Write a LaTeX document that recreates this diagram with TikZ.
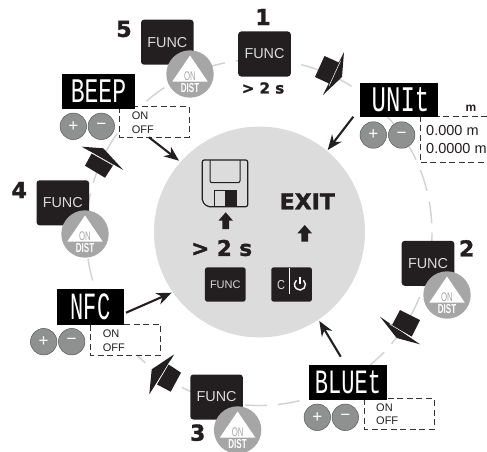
\documentclass[tikz,border=0pt]{standalone}
\usepackage{fontspec}
\setmainfont{Liberation Sans}
\newfontfamily\heavy[FakeBold=1.6]{DejaVu Sans Bold}
\newfontfamily\segf{Liberation Mono}
\usetikzlibrary{arrows.meta}
\definecolor{boxblk}{HTML}{231F20}
\definecolor{distgray}{HTML}{A6A6A6}
\definecolor{discgray}{HTML}{DCDCDC}
\definecolor{ringgray}{HTML}{D2D2D2}
\definecolor{btngray}{HTML}{8E9190}
\definecolor{functxt}{HTML}{DADADA}
\newcommand{\fs}[1]{\fontsize{#1}{#1}\selectfont}
\tikzset{
  funcbox/.style={fill=boxblk,rounded corners=3pt,minimum width=52.6pt,minimum height=45pt,inner sep=0pt,text=functxt,font=\fs{14.4}},
  smallbox/.style={fill=boxblk,rounded corners=2.5pt,minimum width=40.7pt,minimum height=34.4pt,inner sep=0pt},
  distcirc/.style={circle,fill=distgray,minimum size=47.4pt,inner sep=0pt},
  btn/.style={circle,fill=btngray,draw=black!65,line width=.5pt,minimum size=26.5pt,inner sep=0pt,text=white,font=\fs{17}},
  disp/.style={fill=black,inner sep=0pt,text=white},
  bignum/.style={inner sep=0pt,font=\heavy\fs{22},text=boxblk},
  optbox/.style={draw=black!80,dash pattern=on 6pt off 3.5pt,line width=.9pt,fill=white},
  opttxt/.style={inner sep=0pt,anchor=west,font=\fs{11},text=boxblk},
  navarrow/.style={-{Stealth[length=15pt,width=12pt]},line width=2.1pt,draw=boxblk},
  blockarrow/.style={fill=boxblk,draw=none},
  hat/.style={fill=boxblk,draw=none},
  hatline/.style={draw=white,line width=.5pt},
}
\newcommand{\distbtn}[3]{%
  \node[distcirc] (#1) at (#2,#3) {};
  \fill[white] (#2,#3)++(0,-18.5) -- ++(17.8,26.2) -- ++(-35.6,0) -- cycle;
  \node[inner sep=0pt,text=distgray] (#1on) at (#2,#3+2.3) {\scalebox{.62}[1]{\fs{12.5}ON}};
  \node[inner sep=0pt,text=white] (#1dist) at (#2,#3+14) {\scalebox{.62}[1]{\bfseries\fs{13}DIST}};
}
\newcommand{\btnpair}[4]{%
  \node[btn] (#1p) at (#2,#4) {+};
  \node[btn] (#1m) at (#3,#4) {−};
}
\newcommand{\segtext}[3]{\scalebox{1}[#2]{\segf\fs{#1}#3}}
\begin{document}
\begin{tikzpicture}[x=1pt,y=-1pt]
\useasboundingbox (0,0) rectangle (487,452);
% ring and disc
\draw[ringgray,line width=1.4pt,dash pattern=on 22pt off 11pt] (259,232.5) circle[radius=173];
\fill[discgray] (259.5,232) circle[radius=105.5];
% step hats
\fill[hat] (344,52) -- (323,95) -- (342,77) -- cycle;
\fill[hat] (324.5,56) -- (315,77) -- (330,84) -- (340,63) -- cycle;
\draw[hatline] (340.5,61) -- (329,86);
\fill[hat] (380,316.7) -- (420,344.3) -- (396.7,338) -- cycle;
\fill[hat] (400,310) -- (420,320) -- (411.7,336.7) -- (391.7,325.7) -- cycle;
\draw[hatline] (389.5,324) -- (413,338);
\fill[hat] (174.3,354.3) -- (149.3,394.3) -- (151.7,369.3) -- cycle;
\fill[hat] (168.3,364.3) -- (181,372.7) -- (170.7,391.7) -- (156.7,384.3) -- cycle;
\draw[hatline] (170,361.5) -- (155,387);
\fill[hat] (81.7,146.7) -- (123.3,170) -- (103.3,148.3) -- cycle;
\fill[hat] (91.7,153.3) -- (113.3,165) -- (105,177.7) -- (85,165.7) -- cycle;
\draw[hatline] (89,151.5) -- (116,167);
% FUNC boxes
\node[funcbox] (f1) at (264.5,54) {FUNC};
\node[funcbox] (f2) at (428,263.3) {FUNC};
\node[funcbox] (f3) at (216.6,397) {FUNC};
\node[funcbox] (f4) at (62.8,202.8) {FUNC};
\node[funcbox] (f5) at (167.3,42.2) {FUNC};
\distbtn{d2}{447}{295}
\distbtn{d3}{237.6}{430}
\distbtn{d4}{85}{234}
\distbtn{d5}{190}{74}
% numbers
\node[bignum] (n1) at (263,17) {1};
\node[bignum] (n2) at (466.7,248.3) {2};
\node[bignum] (n3) at (197.7,432.7) {3};
\node[bignum] (n4) at (19.3,190) {4};
\node[bignum] (n5) at (124,29) {5};
\node[inner sep=0pt,font=\heavy\fs{15},text=boxblk] (t2s) at (263,88) {> 2 s};
% option boxes
\draw[optbox] (119.7,106.7) rectangle (189,137);
\node[opttxt] (b5on) at (131.7,115.7) {ON};
\node[opttxt] (b5off) at (131.7,129.5) {OFF};
\draw[optbox] (90.3,324.7) rectangle (160.3,355.3);
\node[opttxt] (b4on) at (102.7,334) {ON};
\node[opttxt] (b4off) at (102.7,347.7) {OFF};
\draw[optbox] (364.3,398.7) rectangle (434,429.3);
\node[opttxt] (b3on) at (376,407.7) {ON};
\node[opttxt] (b3off) at (376,421) {OFF};
\draw[optbox] (487,116) -- (420.3,116) -- (420.3,162.7) -- (487,162.7);
\node[opttxt,font=\fs{14.5}] (u1) at (426,131) {0.000 m};
\node[opttxt,font=\fs{14.5}] (u2) at (426,149) {0.0000 m};
\node[inner sep=0pt,font=\bfseries\fs{12},text=boxblk] (um) at (471,108) {m};
% displays
\node[disp,minimum width=73pt,minimum height=35pt] (beep) at (98.5,91.5) {\segtext{23}{1.5}{BEEP}};
\node[disp,minimum width=78pt,minimum height=34pt] (unit) at (399,100) {\hspace{3pt}\segtext{24}{1.5}{UNIt}};
\node[disp,minimum width=67pt,minimum height=36pt] (nfc) at (90.5,307) {\segtext{22}{1.75}{NFC}\hspace{13pt}};
\node[disp,minimum width=78pt,minimum height=35pt] (bluet) at (348,382.5) {\segtext{22}{1.55}{BLUEt}};
% buttons
\btnpair{bb}{73.3}{101.3}{126.3}
\btnpair{ub}{373.3}{401.7}{135}
\btnpair{nb}{43.7}{71.7}{341.7}
\btnpair{lb}{317.3}{345.3}{417.3}
% arrows to disc
\coordinate (a1s) at (353.3,116.7); \coordinate (a1e) at (327.7,150);
\coordinate (a2s) at (149,137.3); \coordinate (a2e) at (179,160.7);
\coordinate (a3s) at (126,312.7); \coordinate (a3e) at (171.7,292.7);
\coordinate (a4s) at (340.7,356.7); \coordinate (a4e) at (319.3,321);
\draw[navarrow] (a1s) -- (a1e);
\draw[navarrow] (a2s) -- (a2e);
\draw[navarrow] (a3s) -- (a3e);
\draw[navarrow] (a4s) -- (a4e);
% floppy
\draw[boxblk,line width=1.2pt,rounded corners=2pt] (202.3,160) -- (247.7,160) -- (247.7,206.7) -- (207.3,206.7) -- (202.3,201.7) -- cycle;
\draw[boxblk,line width=1pt,rounded corners=2pt] (210,160) -- (210,182.7) -- (240,182.7) -- (240,160);
\draw[boxblk,line width=1pt] (214.3,206.7) -- (214.3,190) -- (236,190) -- (236,206.7);
\fill[boxblk] (225,190) rectangle (236,206.7);
% block arrows
\fill[blockarrow] (225.7,212.3) -- (233,220.7) -- (229,220.7) -- (229,229) -- (222.4,229) -- (222.4,220.7) -- (218.4,220.7) -- cycle;
\fill[blockarrow] (304.7,225) -- (312,233.3) -- (308,233.3) -- (308,241.7) -- (301.4,241.7) -- (301.4,233.3) -- (297.4,233.3) -- cycle;
% disc texts
\node[inner sep=0pt,font=\heavy\fs{22},text=boxblk] (exit) at (307.3,201.3) {EXIT};
\node[inner sep=0pt,font=\heavy\fs{21.5},text=boxblk] (save2s) at (221.7,248) {> 2 s};
\node[smallbox,text=functxt,font=\fs{11}] (sf) at (225.3,284.5) {FUNC};
\node[smallbox] (sc) at (291.6,284.5) {};
\node[inner sep=0pt,text=functxt,font=\fs{13}] (sct) at (281,284.7) {\scalebox{.85}[1]{C}};
\draw[white,line width=1pt] (289,267.5) -- (289,294);
\draw[white,line width=1.4pt] (303.5,280.3) arc[start angle=-50,end angle=230,radius=5.5];
\draw[white,line width=1.4pt] (300,277) -- (300,284);
\end{tikzpicture}
\end{document}
